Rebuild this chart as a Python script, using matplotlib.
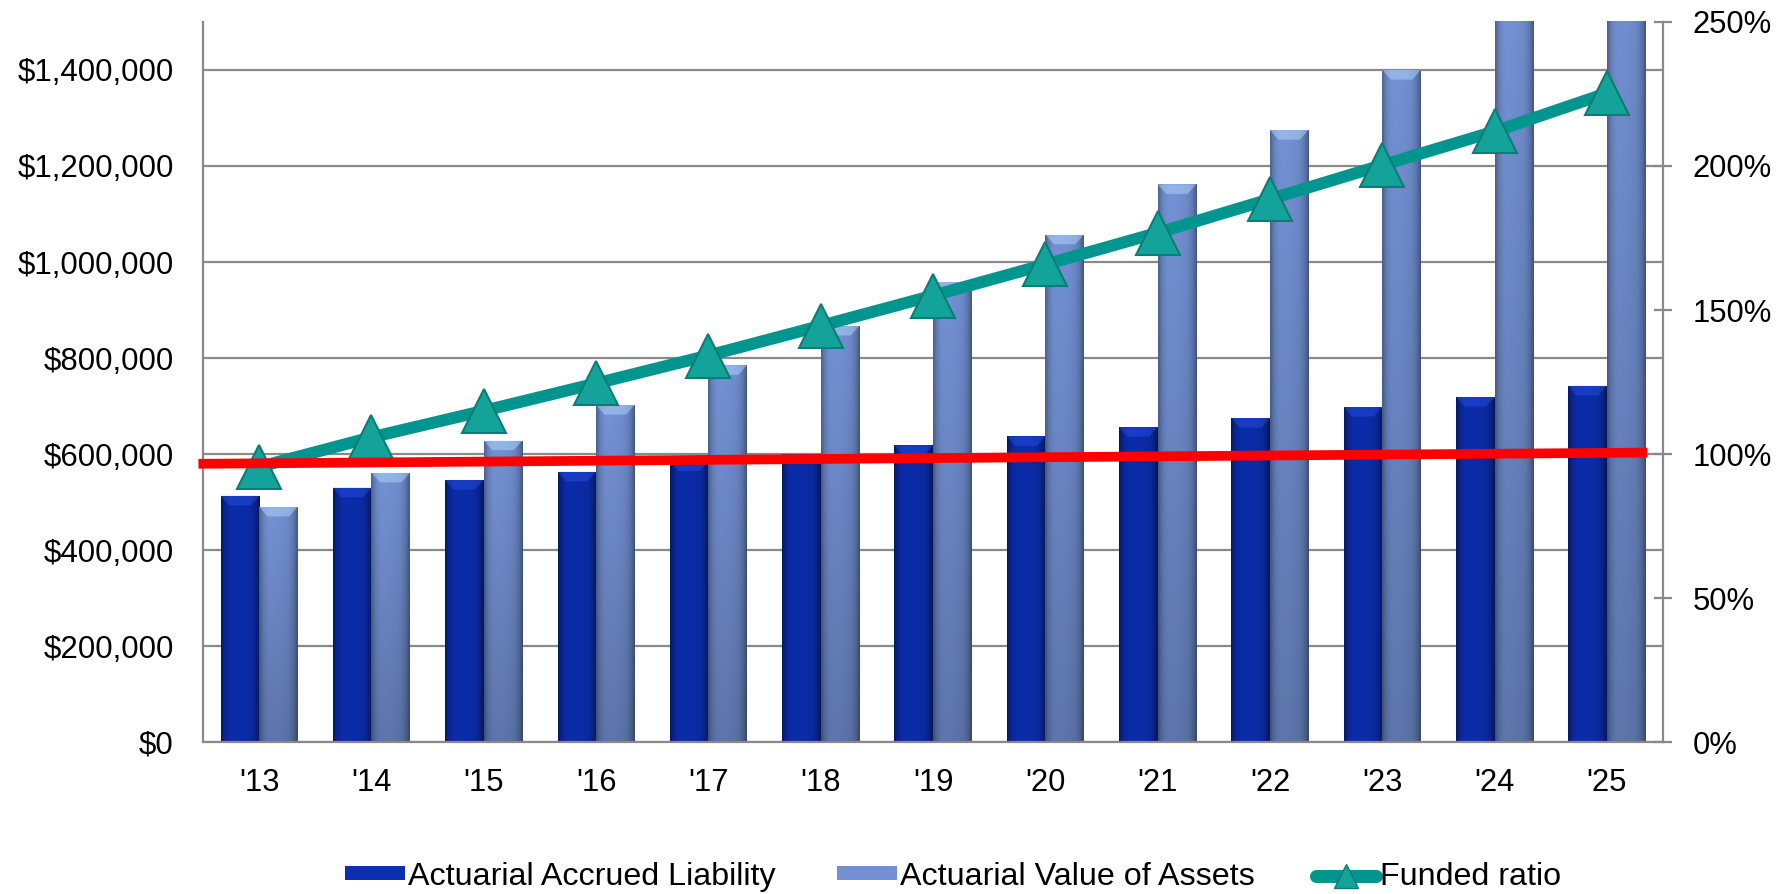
import numpy as np
import matplotlib
matplotlib.use("Agg")
import matplotlib.pyplot as plt
from matplotlib.lines import Line2D
from matplotlib.patches import Polygon
from matplotlib.ticker import FuncFormatter

plt.rcParams['font.family'] = ['Liberation Sans', 'DejaVu Sans']

#%% data (dollars, funded ratio in %)
years = ["'13", "'14", "'15", "'16", "'17", "'18", "'19",
         "'20", "'21", "'22", "'23", "'24", "'25"]
liability = [513000, 530000, 546000, 563000, 585000, 600000, 618000,
             637000, 656000, 675000, 698000, 719000, 742000]
assets = [490000, 561000, 628000, 702000, 785000, 867000, 958000,
          1057000, 1162000, 1275000, 1400000, 1526000, 1672000]
funded_ratio = [95.5, 105.8, 115.0, 124.5, 134.2, 144.5, 155.0,
                165.8, 176.8, 188.5, 200.3, 212.0, 225.3]

# hand-drawn target line across the chart (x in category units, y in %)
target_x = [-0.54, 12.36]
target_pct = [96.6, 100.5]

left_ticks = [0, 200000, 400000, 600000, 800000, 1000000, 1200000, 1400000]
right_ticks = [0, 50, 100, 150, 200, 250]
y_max = 1500000

#%% styling
grey = '#898989'
dark_col = '#0C2EB0'
light_col = '#7290D2'
teal = '#00968F'
bar_w = 0.343


def shade(ax, bars, base, edge_dark=0.55, top_light=1.0, bottom_dark=1.0,
          bevel_alpha=0.45):
    """paint a horizontal/vertical gradient inside each bar and add a bevel"""
    base = np.array(matplotlib.colors.to_rgb(base))
    nx, ny = 40, 60
    u = np.linspace(0, 1, nx)
    v = np.linspace(0, 1, ny)
    hx = 1 - edge_dark * np.abs(2 * u - 1) ** 4
    hx = hx * (1 - 0.10 * u)
    vy = bottom_dark + (top_light - bottom_dark) * v
    fac = vy[:, None] * hx[None, :]
    for b in bars:
        x, y = b.get_x(), b.get_y()
        w, h = b.get_width(), b.get_height()
        top = y + h
        img = np.clip(base[None, None, :] * fac[:, :, None], 0, 1)
        # keep the gradient inside the visible range of the axis
        shown = min(top, y_max)
        cut = int(round(ny * (shown - y) / h))
        im = ax.imshow(img[:max(cut, 1)], extent=[x, x + w, y, shown],
                       origin='lower', aspect='auto', interpolation='bicubic',
                       zorder=b.get_zorder() + 0.1)
        im.set_clip_path(b)
        # lighter top face
        bh = 20000
        d = w * 0.22
        face = Polygon([[x, top], [x + w, top], [x + w - d, top - bh],
                        [x + d, top - bh]], closed=True,
                       facecolor=np.clip(base * 1.35 + 0.12, 0, 1),
                       edgecolor='none', alpha=bevel_alpha,
                       zorder=b.get_zorder() + 0.2)
        ax.add_patch(face)


#%% figure
fig = plt.figure(figsize=(17.85, 8.94), dpi=100)
ax = fig.add_axes([0.1137, 0.1700, 0.8180, 0.8054])

x = np.arange(len(years))
b1 = ax.bar(x - bar_w / 2, liability, bar_w, color=dark_col,
            edgecolor='none', zorder=2, label='Actuarial Accrued Liability')
b2 = ax.bar(x + bar_w / 2, assets, bar_w, color=light_col,
            edgecolor='none', zorder=2, label='Actuarial Value of Assets')
shade(ax, b1, dark_col, edge_dark=0.45, bevel_alpha=0.35)
shade(ax, b2, light_col, edge_dark=0.35, top_light=1.05, bottom_dark=0.85,
      bevel_alpha=0.45)

ax.set_xlim(-0.5, len(years) - 0.5)
ax.set_ylim(0, y_max)
ax.set_yticks(left_ticks)
ax.yaxis.set_major_formatter(FuncFormatter(lambda v, p: '${:,.0f}'.format(v)))
ax.set_xticks(x)
ax.set_xticklabels(years)
ax.yaxis.grid(True, color=grey, linewidth=1.6)
ax.set_axisbelow(True)

for s in ['top', 'right']:
    ax.spines[s].set_visible(False)
for s in ['left', 'bottom']:
    ax.spines[s].set_color(grey)
    ax.spines[s].set_linewidth(1.6)

ax.tick_params(axis='y', length=0, pad=21, labelsize=22.5)
ax.tick_params(axis='x', length=0, pad=19, labelsize=22.2)

# funded ratio on the secondary axis
ax2 = ax.twinx()
ax2.set_ylim(0, 250)
ax2.set_yticks(right_ticks)
ax2.yaxis.set_major_formatter(FuncFormatter(lambda v, p: '{:.0f}%'.format(v)))
for s in ['top', 'left', 'bottom']:
    ax2.spines[s].set_visible(False)
ax2.spines['right'].set_color(grey)
ax2.spines['right'].set_linewidth(1.6)
ax2.tick_params(axis='y', direction='inout', length=13, width=1.6,
                color=grey, pad=15, labelsize=22.3)

ratio_line, = ax2.plot(x, funded_ratio, color=teal, linewidth=8.6,
                       marker='^', markersize=31, markerfacecolor='#14A39A',
                       markeredgecolor='#0C7C75', markeredgewidth=1.5,
                       zorder=3, label='Funded ratio')
ax2.plot(target_x, target_pct, color='#FF0000', linewidth=7,
         solid_capstyle='butt', clip_on=False, zorder=4)

# legend
ratio_handle = Line2D([], [], color=teal, linewidth=9.4,
                      solid_capstyle='round', marker='^', markersize=17,
                      markerfacecolor='#14A39A', markeredgecolor='#0C7C75')
fig.legend([b1, b2, ratio_handle],
           ['Actuarial Accrued Liability', 'Actuarial Value of Assets',
            'Funded ratio'],
           loc='center', bbox_to_anchor=(953 / 1785, 1 - 877 / 894),
           ncol=3, frameon=False, fontsize=23.2, handlelength=1.84,
           handleheight=0.3, handletextpad=0.12, columnspacing=1.9,
           borderpad=0)

fig.savefig('out.png', dpi=100)
